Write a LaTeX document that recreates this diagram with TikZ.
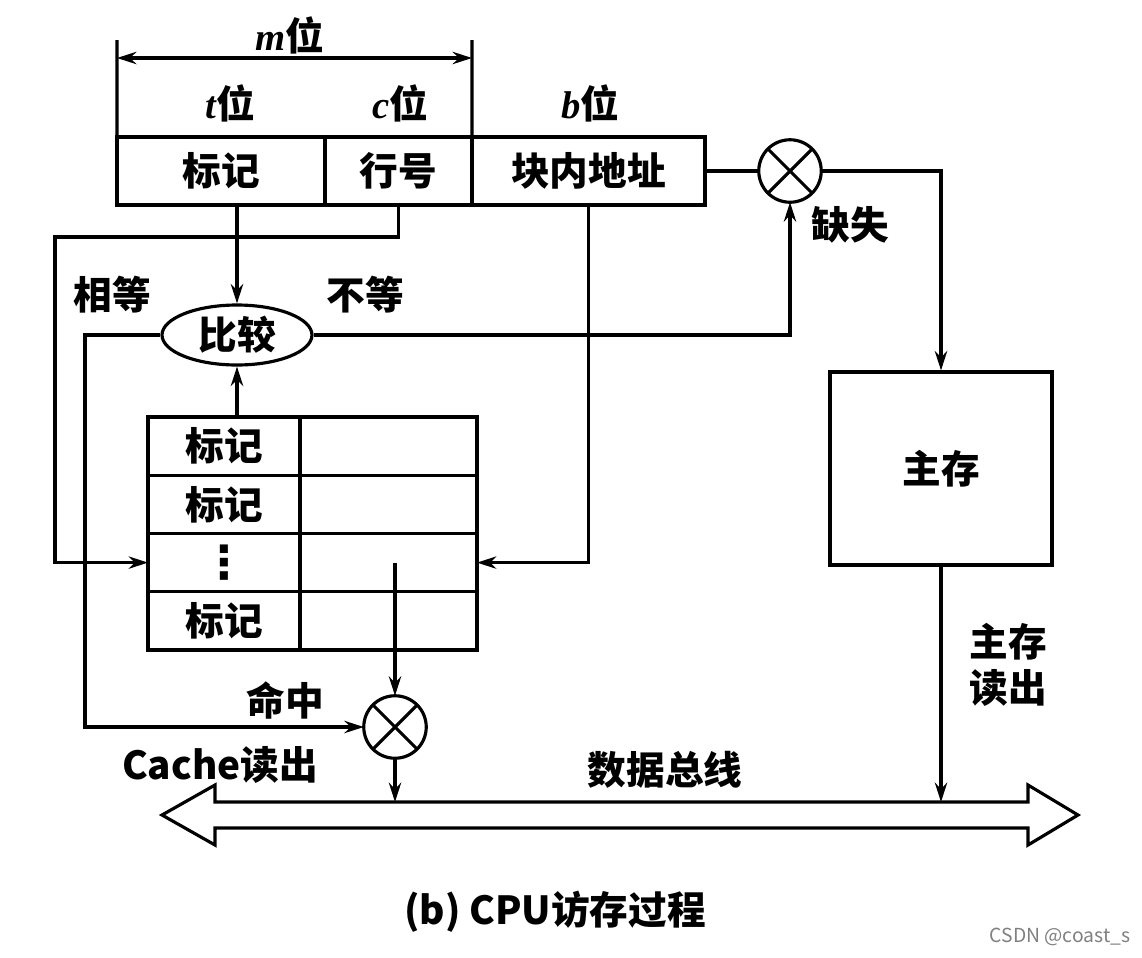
\documentclass[tikz,border=0pt]{standalone}
\usepackage{fontspec}
\setmainfont{Noto Sans CJK SC}
\newfontfamily\serifit{Liberation Serif}
\newfontfamily\symb{DejaVu Sans}
\usetikzlibrary{arrows.meta,shapes.geometric}

\begin{document}
\begin{tikzpicture}[x=0.02cm, y=-0.02cm, line width=1.8pt,
      >={Stealth[length=11pt,width=7pt]},
      cell/.style ={rectangle, draw, outer sep=0pt, inner sep=0pt, minimum height=1.36cm, font=\fontsize{22}{26}\selectfont\bfseries},
      row/.style ={rectangle, draw, outer sep=0pt, inner sep=0pt, minimum height=1.165cm, font=\fontsize{22}{26}\selectfont\bfseries},
      gate/.style ={circle, draw, outer sep=0pt, inner sep=0pt, minimum size=1.25cm,
         path picture={\draw (path picture bounding box.north west) -- (path picture bounding box.south east)
                             (path picture bounding box.north east) -- (path picture bounding box.south west);}},
      lbl/.style ={inner sep=0pt, font=\fontsize{22}{26}\selectfont\bfseries}]
   \useasboundingbox (0,0) rectangle (1142,957);

   % address
   \node[cell, minimum width=4.16cm] (tag)  at (221,171)   {标记};
   \node[cell, minimum width=2.94cm] (line) at (398.5,171) {行号};
   \node[cell, minimum width=4.66cm] (off)  at (588.5,171) {块内地址};

   \node[lbl] (mlab) at (290,35)  {{\serifit\itshape m}位};
   \node[lbl] (tlab) at (230,103) {{\serifit\itshape t}位};
   \node[lbl] (clab) at (400,103) {{\serifit\itshape c}位};
   \node[lbl] (blab) at (590,103) {{\serifit\itshape b}位};

   \coordinate (mL) at (117,40);
   \coordinate (mR) at (472,40);
   \coordinate (mA) at (117,58);
   \coordinate (mB) at (472,58);

   % cache
   \node[row, minimum width=3.04cm] (r1a) at (224,446.1)   {标记};
   \node[row, minimum width=3.54cm] (r1b) at (388.5,446.1) {};
   \node[row, minimum width=3.04cm] (r2a) at (224,504.4)   {标记};
   \node[row, minimum width=3.54cm] (r2b) at (388.5,504.4) {};
   \node[row, minimum width=3.04cm, font=\fontsize{26}{30}\selectfont\symb\bfseries] (r3a) at (224,562.6) {⋮};
   \node[row, minimum width=3.54cm] (r3b) at (388.5,562.6) {};
   \node[row, minimum width=3.04cm] (r4a) at (224,620.9)   {标记};
   \node[row, minimum width=3.54cm] (r4b) at (388.5,620.9) {};

   \node[ellipse, draw, minimum width=3cm, minimum height=1.2cm, inner sep=0pt,
         font=\fontsize{22}{26}\selectfont\bfseries] (cmp) at (237,335) {比较};
   \node[gate] (miss) at (790,171) {};
   \node[gate] (hit)  at (395,727) {};
   \node[lbl, draw, minimum width=4.44cm, minimum height=3.86cm] (mem) at (941,468.5) {主存};

   \node[lbl] (eqlab)   at (112,295)  {相等};
   \node[lbl] (nelab)   at (365,295)  {不等};
   \node[lbl] (misslab) at (850,225)  {缺失};
   \node[lbl] (hitlab)  at (285,700)  {命中};
   \node[lbl] (clab2)   at (220,765)  {Cache读出};
   \node[lbl, align=center] (rdlab) at (1008,665) {主存\\读出};
   \node[lbl] (buslab)  at (665,770)  {数据总线};
   \node[lbl] (caption) at (555,912)  {(b) CPU访存过程};
   \node[inner sep=0pt, font=\fontsize{11}{13}\selectfont, text=gray] (mark) at (1060,937) {CSDN @coast\_s};

   \coordinate (lft) at (55,237);
   \coordinate (eqc) at (85,335);
   \coordinate (bus) at (620,802);

   \draw (tag.north west) -- (mL);
   \draw (line.north east) -- (mR);
   \draw[<->] (mA) -- (mB);

   \draw[->] (tag.south -| cmp) -- (cmp.north);
   \draw[->] (line.south) |- (lft) |- (r3a.west);
   \draw[->] (off.south) |- (r3b.east);
   \draw[->] (cmp |- r1a.north) -- (cmp.south);
   \draw[->] (cmp.east) -| (miss.south);
   \draw[->] (cmp.west) -- (eqc) |- (hit.west);
   \draw (off.east) -- (miss.west);
   \draw[->] (miss.east) -| (mem.north);
   \draw[->] (mem.south) -- (mem |- bus);
   \draw[->] (hit |- r3b) -- (hit.north);
   \draw[->] (hit.south) -- (hit |- bus);

   % bus
   \draw[line join=miter] (162,815) -- (215,785) -- (215,802) -- (1028,802) -- (1028,785) -- (1078,815)
      -- (1028,845) -- (1028,828) -- (215,828) -- (215,845) -- cycle;
 \end{tikzpicture}
\end{document}
